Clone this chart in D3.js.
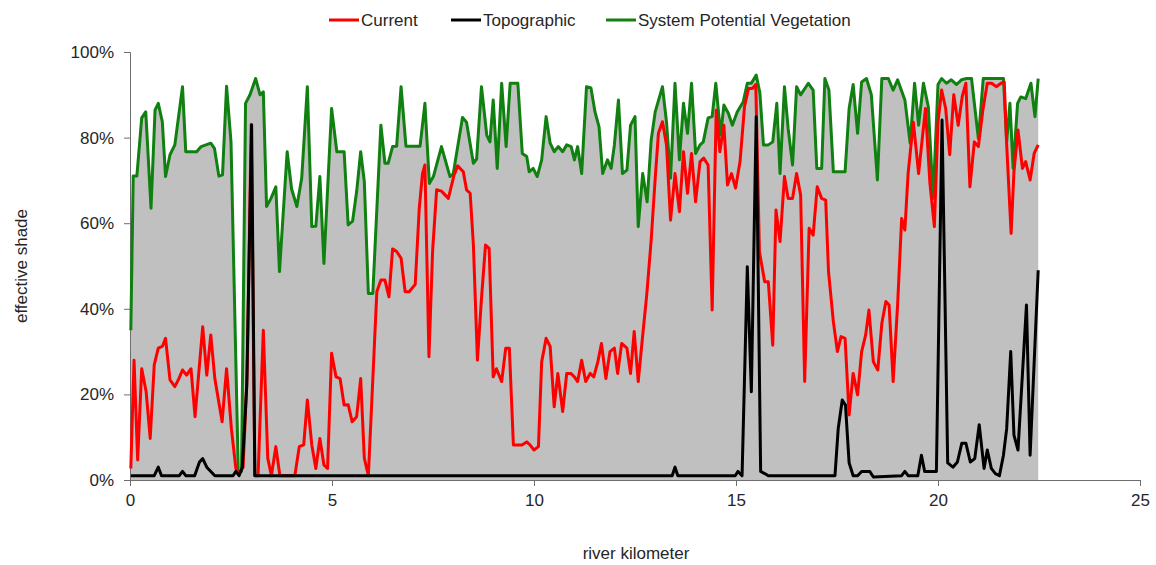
<!DOCTYPE html>
<html lang="en">
<head>
    <title>Effective shade along the river</title>
    <script src="https://d3js.org/d3.v7.min.js"></script>
    <style>
        body { margin: 0; background: #fff; }
        text { font-family: "Liberation Sans", Arial, sans-serif; fill: #262626; }
    </style>
</head>
<body>
    <div id="chart"></div>
    <script>

        // values: [river km, effective shade %]
        const spv = [
            [0.02,35],[0.08,71],[0.17,71],[0.29,84.6],[0.39,86],[0.52,63.5],[0.62,86.4],[0.70,88],[0.80,83.7],[0.88,70.9],
            [0.99,76],[1.11,78.3],[1.30,91.9],[1.38,76.7],[1.65,76.7],[1.76,77.9],[2.00,78.7],[2.09,77.5],[2.20,71],[2.29,71.3],
            [2.39,92],[2.50,79],[2.68,2],[2.76,2],[2.86,88],[2.97,90],[3.11,93.8],[3.22,90],[3.30,90.7],[3.38,63.9],
            [3.49,65.8],[3.61,68.5],[3.70,48.7],[3.89,76.7],[4.00,68],[4.13,63.9],[4.25,70.5],[4.39,91.9],[4.50,59.2],[4.60,59.3],
            [4.70,70.9],[4.80,50.6],[4.99,86.8],[5.12,76.7],[5.30,76.7],[5.40,59.6],[5.51,60.5],[5.61,67.4],[5.71,76.7],[5.80,69.7],
            [5.90,43.6],[6.01,43.6],[6.21,82.9],[6.31,74],[6.39,74],[6.50,77.9],[6.60,78],[6.71,91.9],[6.83,78],[7.18,78],
            [7.30,88],[7.41,69.3],[7.51,70.9],[7.71,77.9],[7.92,70.9],[8.00,71.5],[8.23,84.7],[8.33,83.6],[8.50,74],[8.58,75],
            [8.70,91.9],[8.83,80.6],[8.91,79],[8.99,88.8],[9.09,72.8],[9.20,92.7],[9.31,77.9],[9.41,92.7],[9.60,92.7],[9.71,76.3],
            [9.82,75.6],[9.88,72],[9.98,72.8],[10.08,70.9],[10.19,74.8],[10.30,84.9],[10.40,78.7],[10.50,76.7],[10.60,77.9],[10.71,76.7],
            [10.81,78.3],[10.92,77.9],[11.00,74.8],[11.08,77.9],[11.18,71.6],[11.30,91.9],[11.41,91.6],[11.51,86],[11.61,82.5],[11.70,71.6],
            [11.82,74.8],[11.91,72.8],[11.99,78.3],[12.09,88.8],[12.19,71.6],[12.30,72.4],[12.39,82.9],[12.50,84.9],[12.58,59.2],[12.69,71.6],
            [12.80,65],[12.90,79.4],[13.00,86],[13.18,91.9],[13.28,83.6],[13.38,70.5],[13.49,92.7],[13.60,74.8],[13.70,88],[13.80,81],
            [13.90,92.7],[14.00,76.3],[14.11,78.3],[14.19,79],[14.31,84.6],[14.41,84.9],[14.50,92.7],[14.62,80.6],[14.70,87.6],[14.81,85.7],
            [14.91,82.9],[15.03,86],[15.18,88.4],[15.28,92.7],[15.38,92.7],[15.50,94.6],[15.59,90.5],[15.68,78.3],[15.80,78.3],[15.91,79],
            [16.01,88],[16.09,71.6],[16.20,91.9],[16.29,82.2],[16.40,73.6],[16.50,91.9],[16.60,90],[16.79,92.7],[16.91,91.1],[17.00,72.8],
            [17.12,72.8],[17.20,93.8],[17.30,91.1],[17.41,72],[17.70,72],[17.80,86.8],[17.90,92.4],[18.01,81],[18.11,93],[18.23,93.8],
            [18.35,90],[18.50,70.1],[18.61,93.8],[18.77,93.8],[18.89,91.1],[19.00,93.5],[19.18,88.8],[19.31,78.7],[19.42,92.7],[19.52,82.9],
            [19.64,92.7],[19.76,87.2],[19.88,65.8],[20.00,92.4],[20.09,93.8],[20.21,92.7],[20.33,93.5],[20.46,92.4],[20.58,93.5],[20.71,93.8],
            [20.83,93.8],[21.00,79.7],[21.12,93.8],[21.62,93.8],[21.70,79],[21.78,88],[21.86,72.8],[21.97,88],[22.05,89.5],[22.17,89.1],
            [22.30,92.7],[22.40,84.9],[22.48,93.8]
        ];

        const current = [
            [0.02,2.7],[0.10,28],[0.19,4.7],[0.29,26],[0.40,20.6],[0.50,9.7],[0.60,26.9],[0.70,30.8],[0.80,31.2],[0.88,33.1],
            [0.99,23.4],[1.11,21.8],[1.21,23.7],[1.30,25.7],[1.40,24.5],[1.51,26],[1.61,14.8],[1.80,35.8],[1.90,24.5],[2.00,33.9],
            [2.10,23.7],[2.28,13.6],[2.39,26],[2.51,12],[2.62,2.7],[2.70,1.5],[2.80,3],[2.90,25],[3.00,83],[3.09,1],
            [3.17,1],[3.30,35],[3.41,5.1],[3.50,1],[3.61,7.8],[3.71,1],[4.08,1],[4.19,7.8],[4.30,8.2],[4.39,18.7],
            [4.50,8.2],[4.60,2.7],[4.70,9.7],[4.80,3.5],[4.89,2.7],[4.99,29.6],[5.10,24.1],[5.20,23.7],[5.30,17.5],[5.40,17.6],
            [5.50,13.6],[5.61,14.8],[5.71,23.7],[5.80,5.1],[5.90,1],[6.11,44],[6.21,46.7],[6.31,46.7],[6.41,42.8],[6.50,54],
            [6.60,53.4],[6.71,51.8],[6.81,44],[6.91,44],[7.06,45.7],[7.16,63.5],[7.24,71.6],[7.30,73.6],[7.40,28.8],[7.49,53.4],
            [7.59,67.8],[7.71,67.5],[7.88,65.8],[8.02,71.2],[8.11,73.4],[8.25,72],[8.33,67.8],[8.42,67],[8.50,54.9],[8.60,28],
            [8.70,42.4],[8.80,54.9],[8.89,54.1],[8.99,24.1],[9.07,26],[9.20,23],[9.30,30.8],[9.39,30.8],[9.49,8.2],[9.70,8.2],
            [9.82,8.9],[9.90,8.2],[10.00,7],[10.11,7.8],[10.19,27.6],[10.30,33.1],[10.40,31.2],[10.50,17.1],[10.59,24.9],[10.71,16],
            [10.81,24.9],[10.91,24.9],[11.00,24.1],[11.08,23],[11.18,28],[11.28,23],[11.39,24.9],[11.48,24.1],[11.58,27.6],[11.67,31.9],
            [11.78,23.7],[11.88,30],[11.99,30.8],[12.07,24.9],[12.17,31.9],[12.30,30.8],[12.39,24.9],[12.48,34.7],[12.58,23],[12.70,34.7],
            [12.79,43.2],[12.90,56],[13.00,70.5],[13.08,81],[13.18,83.7],[13.28,78.3],[13.38,60.7],[13.49,71.6],[13.60,62.7],[13.70,76.7],
            [13.80,67],[13.90,76.3],[14.00,65],[14.11,74.4],[14.20,75.2],[14.31,73.6],[14.41,39.7],[14.51,86.4],[14.60,76.7],[14.70,82.9],
            [14.79,68.9],[14.89,71.6],[14.99,68.2],[15.10,74.4],[15.21,87.2],[15.31,91.5],[15.41,91.5],[15.49,92.4],[15.58,53.3],[15.71,46.3],
            [15.80,46.3],[15.91,31.5],[15.99,63.1],[16.09,55.7],[16.20,70.9],[16.29,65.8],[16.40,65.8],[16.50,71.6],[16.60,66.6],[16.70,23],
            [16.81,58.8],[16.91,57.2],[17.01,68.5],[17.12,65.8],[17.22,65.4],[17.29,48.7],[17.41,37],[17.51,30],[17.60,33.5],[17.70,33.1],
            [17.80,15.2],[17.90,24.9],[18.01,19.9],[18.11,30],[18.21,33.9],[18.29,39.7],[18.40,27.6],[18.51,25.7],[18.61,36.6],[18.71,41.7],
            [18.79,40.9],[18.89,23],[19.00,40.9],[19.10,61.1],[19.18,58.4],[19.26,71.6],[19.39,83.6],[19.52,71.6],[19.61,79.7],[19.69,86.8],
            [19.80,69.3],[19.91,59.2],[20.00,83.6],[20.09,91.1],[20.19,86.8],[20.29,76],[20.39,90],[20.50,82.9],[20.60,89.6],[20.69,92.7],
            [20.79,68.5],[20.90,79],[21.00,77.9],[21.11,86.4],[21.22,92.7],[21.33,92.7],[21.44,91.9],[21.56,92.7],[21.64,93],[21.70,78.3],
            [21.81,57.6],[21.88,72],[21.98,81.8],[22.09,72.8],[22.17,74.4],[22.28,70.1],[22.38,76.3],[22.48,78.3]
        ];

        const topographic = [
            [0.02,1],[0.60,1],[0.70,3],[0.78,1],[1.22,1],[1.30,2],[1.38,1],[1.60,1],[1.72,4.2],[1.80,5],
            [1.90,3],[2.00,2],[2.10,1],[2.55,1],[2.62,2],[2.70,1],[2.78,3],[2.89,22],[3.01,83],[3.09,1],
            [13.42,1],[13.49,3],[13.56,1],[14.98,1],[15.05,2],[15.15,1],[15.28,49.8],[15.38,20.6],[15.50,84.9],[15.61,2],
            [15.71,1.5],[15.80,1],[17.45,1],[17.53,12],[17.63,18.7],[17.71,17.5],[17.80,4],[17.90,1],[18.01,1],[18.11,2],
            [18.31,2],[18.40,0.7],[19.10,1],[19.18,2],[19.26,1],[19.50,1],[19.59,5.8],[19.67,2],[19.96,2],[20.10,84.1],
            [20.24,4],[20.37,3],[20.48,4.2],[20.59,8.6],[20.69,8.6],[20.80,4.2],[20.91,5],[21.02,12.9],[21.14,2.7],[21.22,7],
            [21.32,2.7],[21.42,1.5],[21.52,1],[21.62,5.8],[21.70,12],[21.80,30],[21.88,10.5],[21.98,7],[22.19,40.9],[22.28,5.8],
            [22.48,49]
        ];

        const series = [
            { name: "Current", color: "#ff0000", data: current },
            { name: "Topographic", color: "#000000", data: topographic },
            { name: "System Potential Vegetation", color: "#108010", data: spv }
        ];

        const xTicks = [0, 5, 10, 15, 20, 25];
        const yTicks = [0, 20, 40, 60, 80, 100];

        const width = 1156, height = 565;
        const margin = { top: 52, right: 16, bottom: 85, left: 130 };

        const svg = d3.select("#chart")
            .append("svg")
            .attr("width", width)
            .attr("height", height);

        const x = d3.scaleLinear().domain([0, 25]).range([margin.left, width - margin.right]);
        const y = d3.scaleLinear().domain([0, 100]).range([height - margin.bottom, margin.top]);

        // gray shading under the potential vegetation curve
        svg.append("path")
            .datum(spv)
            .attr("fill", "#c0c0c0")
            .attr("d", d3.area().x(d => x(d[0])).y0(y(0)).y1(d => y(d[1])));

        // axes
        const xAxis = svg.append("g")
            .attr("transform", `translate(0,${y(0)})`)
            .call(d3.axisBottom(x).tickValues(xTicks).tickSize(6).tickPadding(8).tickFormat(d3.format("d")));
        const yAxis = svg.append("g")
            .attr("transform", `translate(${x(0)},0)`)
            .call(d3.axisLeft(y).tickValues(yTicks).tickSize(6).tickPadding(10).tickFormat(d => d + "%"));

        [xAxis, yAxis].forEach(g => {
            g.selectAll("path, line").attr("stroke", "#6e6e6e");
            g.selectAll("text").style("font-size", "17px").attr("fill", "#262626");
        });

        // lines: green first so the red and black sit on top
        const line = d3.line().x(d => x(d[0])).y(d => y(d[1]));
        [series[2], series[0], series[1]].forEach(s => {
            svg.append("path")
                .datum(s.data)
                .attr("fill", "none")
                .attr("stroke", s.color)
                .attr("stroke-width", 3)
                .attr("stroke-linejoin", "round")
                .attr("d", line);
        });

        // axis titles
        svg.append("text")
            .attr("x", 636)
            .attr("y", 559)
            .attr("text-anchor", "middle")
            .style("font-size", "17px")
            .text("river kilometer");

        svg.append("text")
            .attr("transform", "translate(27,266) rotate(-90)")
            .attr("text-anchor", "middle")
            .style("font-size", "17px")
            .text("effective shade");

        // legend
        const legendX = [329, 451, 606];
        const legend = svg.append("g").selectAll("g")
            .data(series)
            .enter()
                .append("g")
                .attr("transform", (d, i) => `translate(${legendX[i]},20)`);

        legend.append("line")
            .attr("x1", 0).attr("x2", 30)
            .attr("stroke", d => d.color)
            .attr("stroke-width", 3);

        legend.append("text")
            .attr("x", 32)
            .attr("y", 6)
            .style("font-size", "17px")
            .text(d => d.name);

    </script>
</body>
</html>
